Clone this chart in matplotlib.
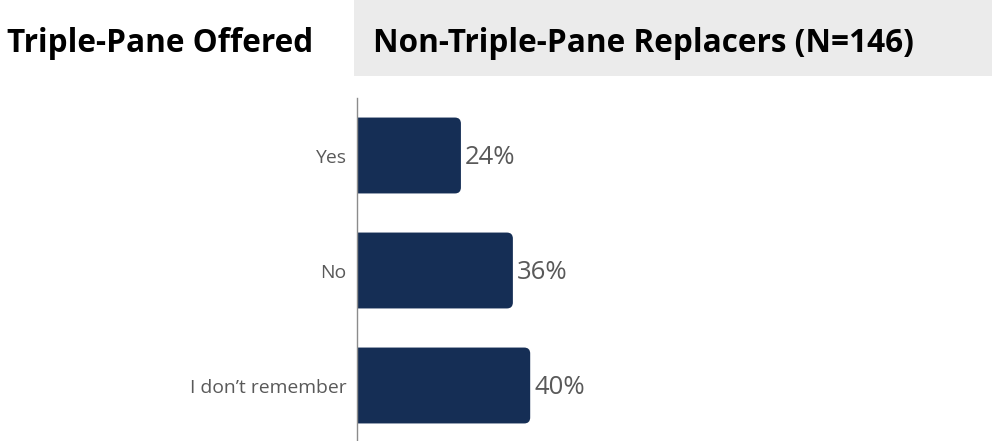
import matplotlib
matplotlib.use('Agg')
import matplotlib.pyplot as plt
from matplotlib.patches import FancyBboxPatch, Rectangle

plt.rcParams['font.family'] = ['Open Sans', 'DejaVu Sans']

# ── data ─────────────────────────────────────────────────────────────────────
categories = ['Yes', 'No', 'I don\u2019t remember']
values     = [24, 36, 40]
title_left = 'Triple-Pane Offered'
title_box  = 'Non-Triple-Pane Replacers (N=146)'

BAR_COLOR  = '#152e55'
TEXT_GREY  = '#595959'
BAR_H      = 0.66

fig = plt.figure(figsize=(9.94, 4.41), dpi=100, facecolor='white')

# header: plain title on the left, grey panel on the right
fig.patches.append(Rectangle((354 / 994, 1 - 76 / 441), (992 - 354) / 994, 76 / 441,
                             transform=fig.transFigure, facecolor='#ebebeb',
                             edgecolor='none', zorder=0))
fig.text(7 / 994, 1 - 44 / 441, title_left, fontsize=22.7, fontweight='bold',
         color='black', va='center', ha='left')
fig.text(373 / 994, 1 - 44 / 441, title_box, fontsize=22.7, fontweight='bold',
         color='black', va='center', ha='left')

ax = fig.add_axes([357 / 994, 1 - 443 / 441, (790 - 357) / 994, 345 / 441])
ax.set_xlim(0, 100)
ax.set_ylim(len(categories) - 0.5, -0.5)

# rounded bars; the left end starts past the axis so only the right corners show
px_x = 100 / ((790 - 357))
px_y = 3 / 345
r = 6 * px_x
for i, v in enumerate(values):
    bar = FancyBboxPatch((-5, i - BAR_H / 2), v + 5, BAR_H,
                         boxstyle=f'round,pad=0,rounding_size={r}',
                         mutation_aspect=px_y / px_x,
                         facecolor=BAR_COLOR, edgecolor='none', zorder=2)
    ax.add_patch(bar)
    ax.text(v + 0.9, i + 0.015, f'{v}%', fontsize=18.5, color=TEXT_GREY,
            va='center', ha='left')

ax.set_yticks(range(len(categories)))
ax.set_yticklabels(categories, fontsize=13.9, color=TEXT_GREY)
ax.tick_params(axis='y', length=0, pad=7.5)
ax.set_xticks([])
for side in ['top', 'right', 'bottom']:
    ax.spines[side].set_visible(False)
ax.spines['left'].set_color('#8c8c8c')
ax.spines['left'].set_linewidth(1)
ax.spines['left'].set_zorder(3)
ax.patch.set_alpha(0)

fig.savefig('out.png', dpi=100, facecolor='white')
